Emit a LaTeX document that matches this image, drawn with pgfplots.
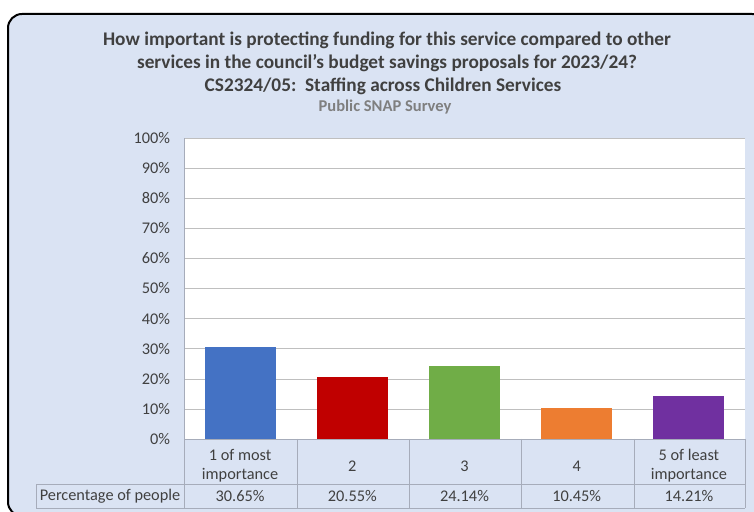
\documentclass[border=0pt]{standalone}
\usepackage{pgfplots}
\pgfplotsset{compat=1.18}
\usepackage{fontspec}
\setmainfont{Carlito}

\definecolor{bgblue}{RGB}{218,227,243}
\definecolor{txtgray}{RGB}{64,64,64}
\definecolor{subgray}{RGB}{127,127,127}
\definecolor{gridgray}{RGB}{191,191,191}
\definecolor{tblgray}{RGB}{166,172,186}
\definecolor{cblue}{RGB}{68,114,196}
\definecolor{cred}{RGB}{192,0,0}
\definecolor{cgreen}{RGB}{112,173,71}
\definecolor{corange}{RGB}{237,125,49}
\definecolor{cpurple}{RGB}{112,48,160}

\newcommand{\lbl}{\fontsize{16.3}{19}\selectfont}

\begin{document}
\begin{tikzpicture}
\path[use as bounding box] (0pt,0pt) rectangle (754pt,511pt);
\draw[line width=2pt, fill=bgblue, rounded corners=14pt] (8pt,497pt) rectangle (766pt,-5pt);

% titles
\node[font=\fontsize{19.3}{23}\selectfont\bfseries, text=txtgray] at (387pt,471pt) {How important is protecting funding for this service compared to other};
\node[font=\fontsize{19.3}{23}\selectfont\bfseries, text=txtgray] at (387pt,448pt) {services in the council’s budget savings proposals for 2023/24?};
\node[font=\fontsize{19.3}{23}\selectfont\bfseries, text=txtgray] at (383pt,425pt) {CS2324/05:\ \ Staffing across Children Services};
\node[font=\fontsize{16.5}{19}\selectfont\bfseries, text=subgray] at (385pt,404pt) {Public SNAP Survey};

\begin{axis}[
    scale only axis,
    width=561pt, height=301pt,
    anchor=south west, at={(184pt,72pt)},
    xmin=-0.5, xmax=4.5,
    ymin=0, ymax=100,
    ybar, bar width=71pt, bar shift=0pt,
    clip=false,
    axis background/.style={fill=white},
    axis lines*=left,
    axis line style={tblgray},
    ymajorgrids, grid style={gridgray},
    ytick={0,10,...,100},
    /pgf/number format/assume math mode=true,
    yticklabel={\pgfmathprintnumber{\tick}\%},
    yticklabel style={font=\lbl, text=txtgray, xshift=-10.5pt},
    xtick={0,1,2,3,4},
    xticklabels={{1 of most\\importance},2,3,4,{5 of least\\importance}},
    xticklabel style={font=\lbl, text=txtgray, align=center, anchor=center, yshift=-22.5pt},
    major tick style={draw=none},
]
\addplot[fill=cblue, draw=none] coordinates {(0,30.65)};
\addplot[fill=cred, draw=none] coordinates {(1,20.55)};
\addplot[fill=cgreen, draw=none] coordinates {(2,24.14)};
\addplot[fill=corange, draw=none] coordinates {(3,10.45)};
\addplot[fill=cpurple, draw=none] coordinates {(4,14.21)};
\addplot[sharp plot, draw=none, mark=none, nodes near coords, point meta=explicit symbolic,
    every node near coord/.style={anchor=center, font=\lbl, text=txtgray}]
    coordinates {(0,-18.9)[30.65\%] (1,-18.9)[20.55\%] (2,-18.9)[24.14\%] (3,-18.9)[10.45\%] (4,-18.9)[14.21\%]};
\end{axis}

% data table grid
\draw[tblgray, line width=0.8pt] (36pt,27pt) -- (745pt,27pt);
\draw[tblgray, line width=0.8pt] (36pt,3pt) -- (745pt,3pt);
\draw[tblgray, line width=0.8pt] (36pt,27pt) -- (36pt,3pt);
\foreach \xx in {184,297,409,521,634,745}
  \draw[tblgray, line width=0.8pt] (\xx pt,72pt) -- (\xx pt,3pt);
\draw[tblgray, line width=0.8pt] (184pt,72pt) -- (745pt,72pt);
\node[font=\lbl, text=txtgray] at (110pt,15pt) {Percentage of people};
\end{tikzpicture}
\end{document}
